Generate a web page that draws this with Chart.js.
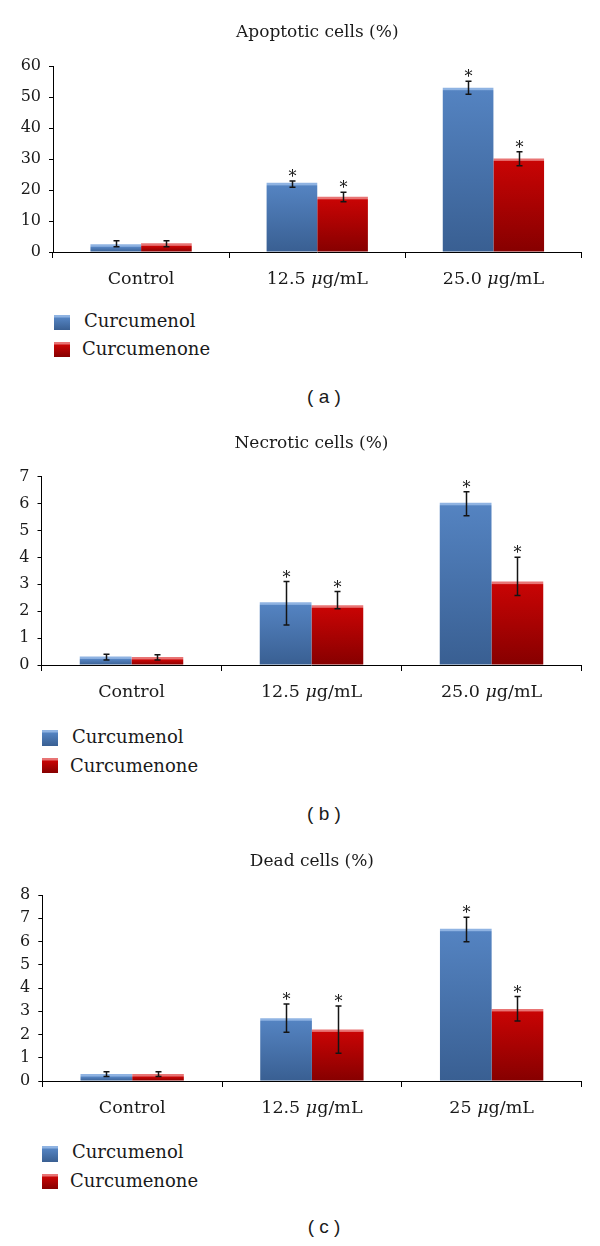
<!DOCTYPE html>
<html>
<head>
<meta charset="utf-8">
<script src="https://cdn.jsdelivr.net/npm/chart.js@4.4.0/dist/chart.umd.min.js"></script>
<style>
  body { margin: 0; background: #fff; }
  #page { position: relative; width: 600px; height: 1246px; overflow: hidden; color: #1a1a1a; font-family: "DejaVu Serif", serif; }
  canvas { position: absolute; left: 0; }
  .sw { position: absolute; width: 16px; height: 15px; }
  .blue { background: linear-gradient(#8fb3e2 0, #8fb3e2 2px, #5483c1 3px, #395f92 100%); }
  .red { background: linear-gradient(#e87474 0, #e87474 2px, #c80404 3px, #860000 100%); }
  .lt { position: absolute; font-size: 18px; line-height: 24px; height: 24px; white-space: nowrap; }
  .cap { position: absolute; width: 100px; text-align: center; font: 19px "Liberation Sans", Arial, sans-serif; line-height: 24px; height: 24px; white-space: pre; }
</style>
</head>
<body>
<div id="page">
  <canvas id="chartA" width="600" height="300" style="top:0px"></canvas>
  <canvas id="chartB" width="600" height="300" style="top:420px"></canvas>
  <canvas id="chartC" width="600" height="300" style="top:830px"></canvas>

  <div class="sw blue" style="left:54px;top:315px"></div><div class="lt" style="left:84px;top:309px">Curcumenol</div>
  <div class="sw red" style="left:54px;top:342px"></div><div class="lt" style="left:82px;top:337px">Curcumenone</div>
  <div class="cap" style="left:274px;top:385px">( a )</div>

  <div class="sw blue" style="left:42px;top:730px;height:16px"></div><div class="lt" style="left:72px;top:725px">Curcumenol</div>
  <div class="sw red" style="left:42px;top:758px"></div><div class="lt" style="left:70px;top:754px">Curcumenone</div>
  <div class="cap" style="left:274px;top:802px">( b )</div>

  <div class="sw blue" style="left:42px;top:1146px;height:16px"></div><div class="lt" style="left:72px;top:1140px">Curcumenol</div>
  <div class="sw red" style="left:42px;top:1174px"></div><div class="lt" style="left:70px;top:1169px">Curcumenone</div>
  <div class="cap" style="left:274px;top:1215px">( c )</div>
</div>
<script>
// categories
const categoriesAB = ['Control', '12.5 μg/mL', '25.0 μg/mL'];
const categoriesC = ['Control', '12.5 μg/mL', '25 μg/mL'];
const seriesNames = ['Curcumenol', 'Curcumenone'];
const marked = [false, true, true];

// (a) apoptotic cells (%)
const apoTitle = 'Apoptotic cells (%)';
const apoYMax = 60, apoYStep = 10;
const apoCurcumenol = [2.5, 22.3, 53.0];
const apoCurcumenone = [2.8, 17.8, 30.2];
const apoCurcumenolLow = [1.7, 20.9, 50.9];
const apoCurcumenolHigh = [3.6, 22.9, 55.1];
const apoCurcumenoneLow = [1.7, 16.2, 27.8];
const apoCurcumenoneHigh = [3.6, 19.3, 32.3];

// (b) necrotic cells (%)
const necTitle = 'Necrotic cells (%)';
const necYMax = 7, necYStep = 1;
const necCurcumenol = [0.32, 2.33, 6.03];
const necCurcumenone = [0.3, 2.22, 3.1];
const necCurcumenolLow = [0.19, 1.49, 5.55];
const necCurcumenolHigh = [0.4, 3.1, 6.44];
const necCurcumenoneLow = [0.19, 2.09, 2.58];
const necCurcumenoneHigh = [0.38, 2.73, 4.01];

// (c) dead cells (%)
const deadTitle = 'Dead cells (%)';
const deadYMax = 8, deadYStep = 1;
const deadCurcumenol = [0.3, 2.7, 6.55];
const deadCurcumenone = [0.3, 2.22, 3.1];
const deadCurcumenolLow = [0.19, 2.1, 5.99];
const deadCurcumenolHigh = [0.4, 3.31, 7.04];
const deadCurcumenoneLow = [0.19, 1.19, 2.58];
const deadCurcumenoneHigh = [0.4, 3.23, 3.63];

// bar fill: light top edge, then vertical shade down to the axis
function shade(light, top, bottom) {
  return c => {
    const ys = c.chart.scales.y;
    if (c.type !== 'data' || !ys) return top;
    const y0 = ys.getPixelForValue(c.raw), y1 = ys.getPixelForValue(0), h = y1 - y0;
    if (!isFinite(h) || h < 3) return top;
    const g = c.chart.ctx.createLinearGradient(0, y0, 0, y1);
    const s = Math.min(2 / h, 0.3);
    g.addColorStop(0, light);
    g.addColorStop(s, light);
    g.addColorStop(Math.min(s + 1 / h, 1), top);
    g.addColorStop(1, bottom);
    return g;
  };
}

const annotate = {
  id: 'annotate',
  afterDatasetsDraw(chart) {
    const ctx = chart.ctx, ys = chart.scales.y;
    ctx.save();
    ctx.strokeStyle = '#141414';
    ctx.fillStyle = '#141414';
    ctx.lineWidth = 1.5;
    ctx.font = '16px "DejaVu Serif"';
    ctx.textAlign = 'center';
    ctx.textBaseline = 'alphabetic';
    chart.data.datasets.forEach((ds, di) => {
      chart.getDatasetMeta(di).data.forEach((bar, i) => {
        const cx = Math.round(bar.x) + 0.5;
        const lo = ys.getPixelForValue(ds.errLow[i]);
        const hi = ys.getPixelForValue(ds.errHigh[i]);
        ctx.beginPath();
        ctx.moveTo(cx, lo); ctx.lineTo(cx, hi);
        ctx.moveTo(cx - 3, lo); ctx.lineTo(cx + 3, lo);
        ctx.moveTo(cx - 3, hi); ctx.lineTo(cx + 3, hi);
        ctx.stroke();
        if (marked[i]) ctx.fillText('*', cx, hi + 1);
      });
    });
    ctx.restore();
  },
  afterDraw(chart, args, opts) {
    const ctx = chart.ctx, a = chart.chartArea, xs = chart.scales.x;
    ctx.save();
    ctx.fillStyle = '#1a1a1a';
    ctx.textBaseline = 'middle';
    ctx.textAlign = 'center';
    ctx.font = '17px "DejaVu Serif"';
    ctx.fillText(opts.title, (a.left + a.right) / 2, a.top - 33.5);

    // category labels, with an italic mu
    ctx.textAlign = 'left';
    const up = '17.5px "DejaVu Serif"', it = 'italic 17.5px "DejaVu Serif"';
    chart.data.labels.forEach((lab, i) => {
      const bits = lab.split('μ');
      const parts = bits.length > 1 ? [[bits[0], up], ['μ', it], [bits[1], up]] : [[lab, up]];
      let w = 0;
      parts.forEach(p => { ctx.font = p[1]; w += ctx.measureText(p[0]).width; });
      let x = xs.getPixelForValue(i) - w / 2;
      parts.forEach(p => {
        ctx.font = p[1];
        ctx.fillText(p[0], x, a.bottom + 27.5);
        x += ctx.measureText(p[0]).width;
      });
    });
    ctx.restore();
  }
};

function makeChart(id, layout, labels, title, yMax, yStep, blue, red) {
  return new Chart(document.getElementById(id), {
    type: 'bar',
    data: {
      labels: labels,
      datasets: [
        { label: seriesNames[0], data: blue.values, errLow: blue.low, errHigh: blue.high,
          backgroundColor: shade('#8fb3e2', '#5483c1', '#395f92'), borderWidth: 0 },
        { label: seriesNames[1], data: red.values, errLow: red.low, errHigh: red.high,
          backgroundColor: shade('#e87474', '#c80404', '#860000'), borderWidth: 0 }
      ]
    },
    options: {
      responsive: false,
      animation: false,
      events: [],
      layout: { padding: { top: layout.plotTop, right: 18.5, bottom: 0, left: 0 } },
      datasets: { bar: { categoryPercentage: 0.575, barPercentage: 1.0 } },
      plugins: {
        legend: { display: false },
        tooltip: { enabled: false },
        annotate: { title: title }
      },
      scales: {
        x: {
          offset: true,
          grid: { offset: true, drawOnChartArea: false, tickLength: 6, color: '#000' },
          border: { color: '#000', width: 1 },
          ticks: { display: false },
          afterFit: s => { s.height = 300 - layout.plotBottom; }
        },
        y: {
          min: 0,
          max: yMax,
          grid: { drawOnChartArea: false, tickLength: 4, color: '#000' },
          border: { color: '#000', width: 1 },
          ticks: { stepSize: yStep, padding: 8, color: '#1a1a1a', font: { family: 'DejaVu Serif', size: 16 } },
          afterFit: s => { s.width = layout.axisLeft; }
        }
      }
    },
    plugins: [annotate]
  });
}

makeChart('chartA', { axisLeft: 53, plotTop: 66, plotBottom: 252 }, categoriesAB, apoTitle, apoYMax, apoYStep,
  { values: apoCurcumenol, low: apoCurcumenolLow, high: apoCurcumenolHigh },
  { values: apoCurcumenone, low: apoCurcumenoneLow, high: apoCurcumenoneHigh });

makeChart('chartB', { axisLeft: 41.5, plotTop: 56.7, plotBottom: 245 }, categoriesAB, necTitle, necYMax, necYStep,
  { values: necCurcumenol, low: necCurcumenolLow, high: necCurcumenolHigh },
  { values: necCurcumenone, low: necCurcumenoneLow, high: necCurcumenoneHigh });

makeChart('chartC', { axisLeft: 42.3, plotTop: 65, plotBottom: 251 }, categoriesC, deadTitle, deadYMax, deadYStep,
  { values: deadCurcumenol, low: deadCurcumenolLow, high: deadCurcumenolHigh },
  { values: deadCurcumenone, low: deadCurcumenoneLow, high: deadCurcumenoneHigh });
</script>
</body>
</html>
